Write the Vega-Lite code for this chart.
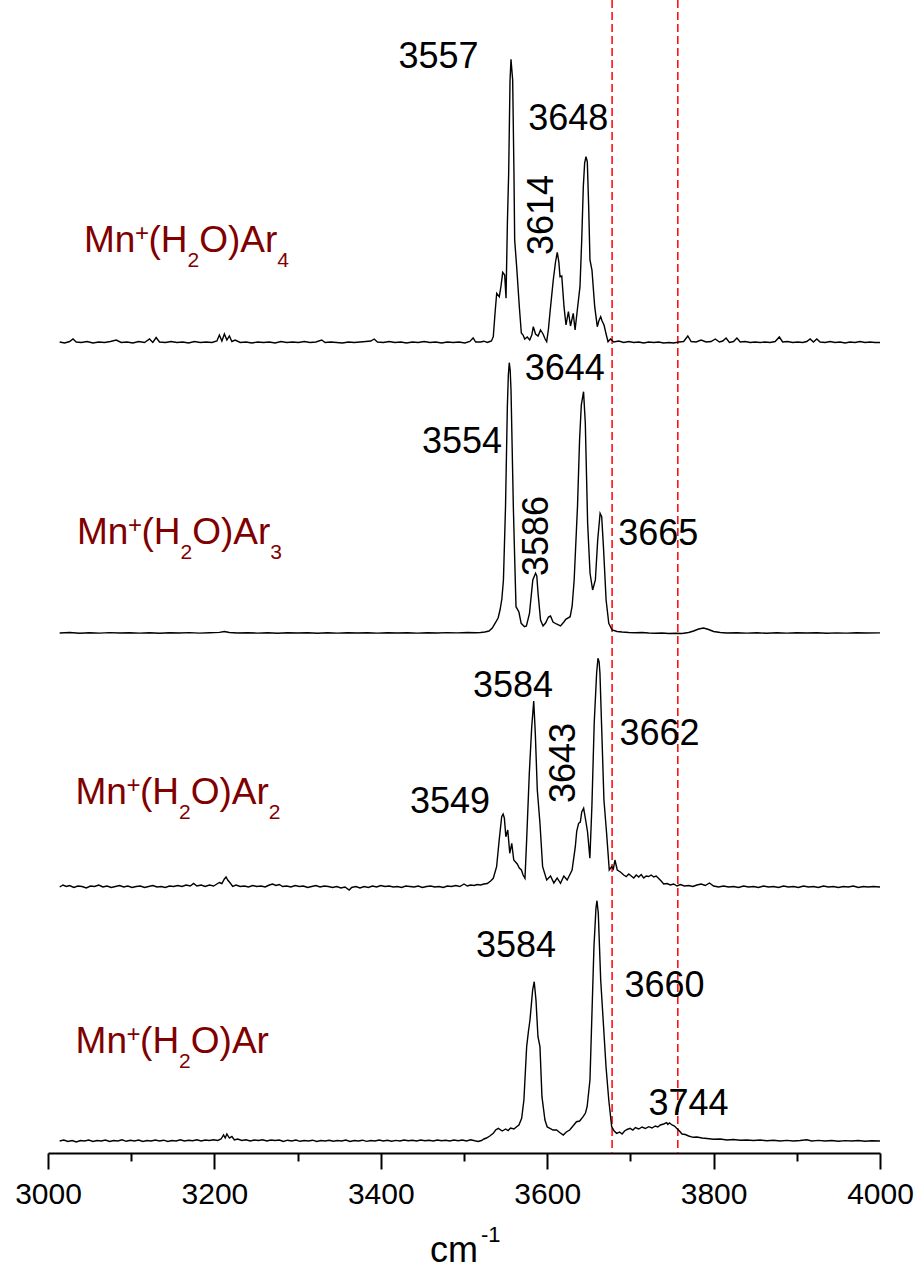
{
  "$schema": "https://vega.github.io/schema/vega-lite/v6.json",
  "width": 832,
  "height": 1153,
  "autosize": {"type": "none"},
  "padding": {"left": 48, "top": 0, "right": 41, "bottom": 123},
  "background": "white",
  "config": {"view": {"stroke": null}, "font": "Liberation Sans"},
  "datasets": {
    "markers": [{"wn": 3678}, {"wn": 3757}],
    "ar4": [
      {"wn":3014,"v":7.99},{"wn":3020,"v":7.98},{"wn":3026,"v":7.995},{"wn":3030,"v":8.02},{"wn":3034,"v":7.99},{"wn":3040,"v":7.985},{"wn":3047,"v":7.995},{"wn":3054,"v":7.98},{"wn":3061,"v":7.99},{"wn":3068,"v":7.985},{"wn":3075,"v":7.995},{"wn":3082,"v":8.01},{"wn":3088,"v":7.985},{"wn":3095,"v":7.99},{"wn":3102,"v":7.98},{"wn":3109,"v":7.995},{"wn":3116,"v":7.985},{"wn":3122,"v":8.02},{"wn":3126,"v":7.985},{"wn":3130,"v":8.035},{"wn":3134,"v":7.99},{"wn":3141,"v":7.985},{"wn":3148,"v":7.995},{"wn":3155,"v":7.985},{"wn":3162,"v":7.99},{"wn":3169,"v":7.98},{"wn":3176,"v":7.995},{"wn":3183,"v":7.985},{"wn":3190,"v":7.99},{"wn":3197,"v":7.985},{"wn":3203,"v":8.0},{"wn":3206,"v":8.06},{"wn":3209,"v":8.0},{"wn":3212,"v":8.07},{"wn":3215,"v":8.01},{"wn":3218,"v":8.05},{"wn":3221,"v":7.995},{"wn":3225,"v":8.01},{"wn":3231,"v":7.985},{"wn":3238,"v":7.99},{"wn":3245,"v":7.98},{"wn":3252,"v":7.99},{"wn":3259,"v":7.985},{"wn":3266,"v":7.99},{"wn":3273,"v":7.98},{"wn":3280,"v":7.995},{"wn":3287,"v":7.985},{"wn":3294,"v":7.99},{"wn":3301,"v":7.985},{"wn":3308,"v":7.995},{"wn":3315,"v":7.985},{"wn":3322,"v":7.99},{"wn":3329,"v":8.01},{"wn":3333,"v":7.985},{"wn":3340,"v":7.99},{"wn":3347,"v":7.985},{"wn":3354,"v":7.98},{"wn":3361,"v":7.99},{"wn":3368,"v":7.985},{"wn":3375,"v":7.99},{"wn":3382,"v":7.995},{"wn":3388,"v":8.0},{"wn":3392,"v":8.02},{"wn":3396,"v":7.99},{"wn":3403,"v":7.985},{"wn":3410,"v":7.995},{"wn":3417,"v":7.985},{"wn":3424,"v":7.99},{"wn":3431,"v":7.98},{"wn":3438,"v":7.99},{"wn":3445,"v":7.985},{"wn":3452,"v":7.995},{"wn":3459,"v":7.985},{"wn":3466,"v":7.99},{"wn":3473,"v":7.98},{"wn":3480,"v":7.99},{"wn":3487,"v":7.985},{"wn":3494,"v":7.99},{"wn":3501,"v":7.98},{"wn":3507,"v":7.995},{"wn":3511,"v":8.03},{"wn":3514,"v":7.99},
      {"wn":3520,"v":7.99},{"wn":3524,"v":7.998},{"wn":3528,"v":7.985},{"wn":3531,"v":7.995},{"wn":3533,"v":8.0},{"wn":3535.2,"v":8.043},{"wn":3537.5,"v":8.3},{"wn":3539.3,"v":8.477},{"wn":3542.4,"v":8.443},{"wn":3544.5,"v":8.55},{"wn":3546.5,"v":8.687},{"wn":3548.9,"v":8.66},{"wn":3550.5,"v":8.427},{"wn":3552.2,"v":9.2},{"wn":3553.7,"v":9.68},{"wn":3555.3,"v":10.6},{"wn":3556.5,"v":10.817},{"wn":3557.6,"v":10.7},{"wn":3558.5,"v":10.61},{"wn":3560,"v":9.71},{"wn":3560.9,"v":9.01},{"wn":3563.3,"v":8.743},{"wn":3566.5,"v":8.343},{"wn":3568.9,"v":8.08},{"wn":3571,"v":8.06},{"wn":3573,"v":8.02},{"wn":3576,"v":8.04},{"wn":3579,"v":8.01},{"wn":3581.5,"v":8.06},{"wn":3583.3,"v":8.143},{"wn":3586,"v":8.07},{"wn":3589,"v":8.05},{"wn":3592,"v":8.11},{"wn":3595,"v":8.07},{"wn":3597.5,"v":8.02},{"wn":3599.4,"v":7.993},{"wn":3601.5,"v":8.12},{"wn":3603.3,"v":8.28},{"wn":3607.3,"v":8.61},{"wn":3610,"v":8.79},{"wn":3612.1,"v":8.887},{"wn":3614,"v":8.79},{"wn":3615.4,"v":8.643},{"wn":3617.5,"v":8.65},{"wn":3620.2,"v":8.343},{"wn":3622.6,"v":8.16},{"wn":3625.5,"v":8.293},{"wn":3628,"v":8.15},{"wn":3631.3,"v":8.277},{"wn":3633.5,"v":8.11},{"wn":3636.2,"v":8.31},{"wn":3639.4,"v":8.543},{"wn":3641.5,"v":9.01},{"wn":3643.4,"v":9.543},{"wn":3645,"v":9.78},{"wn":3646.6,"v":9.843},{"wn":3648.2,"v":9.793},{"wn":3649.8,"v":9.36},{"wn":3651.4,"v":8.81},{"wn":3653.8,"v":8.71},{"wn":3657.1,"v":8.343},{"wn":3660.2,"v":8.143},{"wn":3662,"v":8.2},{"wn":3664.3,"v":8.243},{"wn":3666,"v":8.2},{"wn":3668.3,"v":8.16},{"wn":3670.5,"v":8.08},{"wn":3673.1,"v":7.993},{"wn":3676,"v":8.02},{"wn":3680,"v":7.99},
      {"wn":3686,"v":8.0},{"wn":3692,"v":7.985},{"wn":3698,"v":7.995},{"wn":3704,"v":7.985},{"wn":3710,"v":7.99},{"wn":3716,"v":7.98},{"wn":3722,"v":7.99},{"wn":3728,"v":7.985},{"wn":3734,"v":7.99},{"wn":3740,"v":7.98},{"wn":3746,"v":7.985},{"wn":3752,"v":7.98},{"wn":3758,"v":7.99},{"wn":3764,"v":7.995},{"wn":3769,"v":8.05},{"wn":3773,"v":7.995},{"wn":3779,"v":7.99},{"wn":3785,"v":8.01},{"wn":3791,"v":7.99},{"wn":3797,"v":7.995},{"wn":3802,"v":8.02},{"wn":3807,"v":7.99},{"wn":3811,"v":8.0},{"wn":3815,"v":8.03},{"wn":3819,"v":7.985},{"wn":3824,"v":7.995},{"wn":3828,"v":8.03},{"wn":3832,"v":7.99},{"wn":3838,"v":7.995},{"wn":3844,"v":7.985},{"wn":3850,"v":7.99},{"wn":3856,"v":7.985},{"wn":3862,"v":7.99},{"wn":3868,"v":7.985},{"wn":3874,"v":7.995},{"wn":3879,"v":8.04},{"wn":3883,"v":7.99},{"wn":3889,"v":7.995},{"wn":3895,"v":7.985},{"wn":3901,"v":7.99},{"wn":3907,"v":7.985},{"wn":3912,"v":7.995},{"wn":3916,"v":8.02},{"wn":3920,"v":7.99},{"wn":3924,"v":8.02},{"wn":3928,"v":7.99},{"wn":3934,"v":7.985},{"wn":3940,"v":7.995},{"wn":3946,"v":7.985},{"wn":3952,"v":7.99},{"wn":3958,"v":7.98},{"wn":3964,"v":7.99},{"wn":3970,"v":7.985},{"wn":3976,"v":7.995},{"wn":3982,"v":7.985},{"wn":3988,"v":7.99},{"wn":3994,"v":7.985},{"wn":4000,"v":7.985}
    ],
    "ar3": [
      {"wn":3014,"v":5.08},{"wn":3026,"v":5.085},{"wn":3038,"v":5.078},{"wn":3050,"v":5.083},{"wn":3062,"v":5.079},{"wn":3074,"v":5.084},{"wn":3086,"v":5.08},{"wn":3098,"v":5.083},{"wn":3110,"v":5.079},{"wn":3122,"v":5.082},{"wn":3134,"v":5.078},{"wn":3146,"v":5.083},{"wn":3158,"v":5.08},{"wn":3170,"v":5.084},{"wn":3182,"v":5.079},{"wn":3194,"v":5.082},{"wn":3206,"v":5.086},{"wn":3212,"v":5.095},{"wn":3218,"v":5.085},{"wn":3228,"v":5.08},{"wn":3240,"v":5.083},{"wn":3252,"v":5.079},{"wn":3264,"v":5.082},{"wn":3276,"v":5.078},{"wn":3288,"v":5.083},{"wn":3300,"v":5.08},{"wn":3312,"v":5.082},{"wn":3324,"v":5.078},{"wn":3336,"v":5.083},{"wn":3348,"v":5.079},{"wn":3360,"v":5.082},{"wn":3372,"v":5.08},{"wn":3384,"v":5.083},{"wn":3396,"v":5.079},{"wn":3408,"v":5.082},{"wn":3420,"v":5.08},{"wn":3432,"v":5.083},{"wn":3444,"v":5.079},{"wn":3456,"v":5.082},{"wn":3468,"v":5.08},{"wn":3480,"v":5.084},{"wn":3492,"v":5.081},{"wn":3504,"v":5.085},{"wn":3514,"v":5.083},
      {"wn":3520,"v":5.085},{"wn":3525,"v":5.09},{"wn":3530,"v":5.1},{"wn":3534,"v":5.13},{"wn":3537.3,"v":5.177},{"wn":3541,"v":5.23},{"wn":3543.3,"v":5.31},{"wn":3545.5,"v":5.42},{"wn":3547.4,"v":5.61},{"wn":3549.9,"v":6.343},{"wn":3552.1,"v":7.343},{"wn":3553.3,"v":7.66},{"wn":3554.4,"v":7.783},{"wn":3555.5,"v":7.71},{"wn":3556.5,"v":7.51},{"wn":3559.3,"v":6.343},{"wn":3561,"v":5.8},{"wn":3562.5,"v":5.343},{"wn":3566,"v":5.29},{"wn":3568.7,"v":5.177},{"wn":3572.7,"v":5.143},{"wn":3575,"v":5.15},{"wn":3578.7,"v":5.277},{"wn":3582.7,"v":5.61},{"wn":3586,"v":5.677},{"wn":3587.5,"v":5.65},{"wn":3589,"v":5.477},{"wn":3592,"v":5.21},{"wn":3595,"v":5.15},{"wn":3598,"v":5.18},{"wn":3601.5,"v":5.24},{"wn":3604,"v":5.25},{"wn":3607,"v":5.19},{"wn":3611,"v":5.17},{"wn":3616,"v":5.15},{"wn":3620,"v":5.19},{"wn":3622.3,"v":5.217},{"wn":3627.6,"v":5.243},{"wn":3630,"v":5.35},{"wn":3632.4,"v":5.61},{"wn":3636.4,"v":6.343},{"wn":3638.9,"v":7.01},{"wn":3641,"v":7.36},{"wn":3643.7,"v":7.493},{"wn":3645.8,"v":7.177},{"wn":3648.6,"v":6.177},{"wn":3651.5,"v":5.677},{"wn":3654.6,"v":5.51},{"wn":3657.9,"v":5.61},{"wn":3660.7,"v":6.01},{"wn":3663.6,"v":6.277},{"wn":3665.5,"v":6.243},{"wn":3667.6,"v":5.943},{"wn":3670.8,"v":5.41},{"wn":3674,"v":5.177},{"wn":3678,"v":5.11},
      {"wn":3684,"v":5.095},{"wn":3690,"v":5.09},{"wn":3698,"v":5.085},{"wn":3706,"v":5.082},{"wn":3714,"v":5.085},{"wn":3722,"v":5.08},{"wn":3730,"v":5.078},{"wn":3738,"v":5.08},{"wn":3746,"v":5.075},{"wn":3754,"v":5.078},{"wn":3762,"v":5.075},{"wn":3770,"v":5.085},{"wn":3776,"v":5.1},{"wn":3782,"v":5.12},{"wn":3788,"v":5.13},{"wn":3794,"v":5.115},{"wn":3800,"v":5.095},{"wn":3808,"v":5.085},{"wn":3816,"v":5.08},{"wn":3828,"v":5.083},{"wn":3840,"v":5.079},{"wn":3852,"v":5.082},{"wn":3864,"v":5.078},{"wn":3876,"v":5.082},{"wn":3888,"v":5.079},{"wn":3900,"v":5.083},{"wn":3912,"v":5.08},{"wn":3924,"v":5.082},{"wn":3936,"v":5.078},{"wn":3948,"v":5.081},{"wn":3960,"v":5.079},{"wn":3972,"v":5.082},{"wn":3984,"v":5.08},{"wn":4000,"v":5.081}
    ],
    "ar2": [
      {"wn":3014,"v":2.54},{"wn":3018,"v":2.56},{"wn":3022,"v":2.545},{"wn":3026,"v":2.555},{"wn":3031,"v":2.535},{"wn":3036,"v":2.55},{"wn":3041,"v":2.545},{"wn":3046,"v":2.53},{"wn":3051,"v":2.55},{"wn":3056,"v":2.545},{"wn":3061,"v":2.56},{"wn":3066,"v":2.54},{"wn":3071,"v":2.55},{"wn":3076,"v":2.535},{"wn":3081,"v":2.545},{"wn":3086,"v":2.555},{"wn":3091,"v":2.54},{"wn":3096,"v":2.55},{"wn":3101,"v":2.535},{"wn":3106,"v":2.545},{"wn":3111,"v":2.55},{"wn":3116,"v":2.535},{"wn":3121,"v":2.545},{"wn":3126,"v":2.555},{"wn":3131,"v":2.54},{"wn":3136,"v":2.545},{"wn":3141,"v":2.535},{"wn":3146,"v":2.55},{"wn":3151,"v":2.545},{"wn":3156,"v":2.555},{"wn":3161,"v":2.545},{"wn":3166,"v":2.56},{"wn":3171,"v":2.55},{"wn":3175,"v":2.575},{"wn":3179,"v":2.55},{"wn":3184,"v":2.56},{"wn":3189,"v":2.545},{"wn":3194,"v":2.56},{"wn":3199,"v":2.55},{"wn":3203,"v":2.57},{"wn":3206,"v":2.585},{"wn":3209,"v":2.575},{"wn":3212,"v":2.62},{"wn":3214,"v":2.64},{"wn":3216,"v":2.61},{"wn":3219,"v":2.58},{"wn":3222,"v":2.545},{"wn":3226,"v":2.56},{"wn":3231,"v":2.545},{"wn":3236,"v":2.55},{"wn":3241,"v":2.54},{"wn":3246,"v":2.555},{"wn":3251,"v":2.545},{"wn":3256,"v":2.55},{"wn":3261,"v":2.54},{"wn":3266,"v":2.56},{"wn":3270,"v":2.57},{"wn":3274,"v":2.555},{"wn":3278,"v":2.565},{"wn":3282,"v":2.545},{"wn":3287,"v":2.55},{"wn":3292,"v":2.54},{"wn":3297,"v":2.555},{"wn":3302,"v":2.545},{"wn":3307,"v":2.55},{"wn":3312,"v":2.535},{"wn":3317,"v":2.545},{"wn":3322,"v":2.555},{"wn":3327,"v":2.54},{"wn":3332,"v":2.55},{"wn":3337,"v":2.545},{"wn":3342,"v":2.535},{"wn":3347,"v":2.545},{"wn":3352,"v":2.53},{"wn":3357,"v":2.54},{"wn":3362,"v":2.51},{"wn":3365,"v":2.535},{"wn":3370,"v":2.545},{"wn":3375,"v":2.53},{"wn":3380,"v":2.545},{"wn":3385,"v":2.535},{"wn":3390,"v":2.55},{"wn":3395,"v":2.54},{"wn":3400,"v":2.555},{"wn":3405,"v":2.545},{"wn":3410,"v":2.55},{"wn":3415,"v":2.54},{"wn":3420,"v":2.545},{"wn":3425,"v":2.535},{"wn":3430,"v":2.55},{"wn":3435,"v":2.545},{"wn":3440,"v":2.54},{"wn":3445,"v":2.55},{"wn":3450,"v":2.535},{"wn":3455,"v":2.545},{"wn":3460,"v":2.55},{"wn":3465,"v":2.54},{"wn":3470,"v":2.545},{"wn":3475,"v":2.535},{"wn":3480,"v":2.55},{"wn":3485,"v":2.545},{"wn":3490,"v":2.555},{"wn":3495,"v":2.545},{"wn":3500,"v":2.57},{"wn":3504,"v":2.55},{"wn":3508,"v":2.56},{"wn":3512,"v":2.555},{"wn":3516,"v":2.565},{"wn":3520,"v":2.56},{"wn":3524,"v":2.57},{"wn":3528,"v":2.575},{"wn":3532,"v":2.6},
      {"wn":3535.2,"v":2.627},{"wn":3539.2,"v":2.743},{"wn":3542.3,"v":3.01},{"wn":3545.3,"v":3.243},{"wn":3547,"v":3.27},{"wn":3548.5,"v":3.23},{"wn":3550.3,"v":3.043},{"wn":3552.6,"v":3.11},{"wn":3555,"v":2.877},{"wn":3557.4,"v":2.977},{"wn":3559.8,"v":2.81},{"wn":3564,"v":2.77},{"wn":3566.5,"v":2.73},{"wn":3569,"v":2.71},{"wn":3571,"v":2.66},{"wn":3573.3,"v":2.627},{"wn":3575.3,"v":3.01},{"wn":3578.5,"v":3.677},{"wn":3581.4,"v":4.143},{"wn":3582.8,"v":4.29},{"wn":3583.8,"v":4.4},{"wn":3585.7,"v":4.077},{"wn":3588.1,"v":3.51},{"wn":3591.3,"v":3.177},{"wn":3594.5,"v":2.743},{"wn":3599.4,"v":2.61},{"wn":3604,"v":2.65},{"wn":3608,"v":2.58},{"wn":3612,"v":2.63},{"wn":3616,"v":2.577},{"wn":3620,"v":2.65},{"wn":3624,"v":2.61},{"wn":3627,"v":2.66},{"wn":3629.9,"v":2.71},{"wn":3633.8,"v":2.943},{"wn":3635.5,"v":3.1},{"wn":3637.8,"v":3.177},{"wn":3639.8,"v":3.19},{"wn":3641.5,"v":3.29},{"wn":3643.8,"v":3.327},{"wn":3646.2,"v":3.21},{"wn":3648.5,"v":3.09},{"wn":3651.3,"v":2.827},{"wn":3653.7,"v":3.343},{"wn":3656.5,"v":4.177},{"wn":3659.4,"v":4.677},{"wn":3661,"v":4.827},{"wn":3662.4,"v":4.79},{"wn":3663.4,"v":4.677},{"wn":3665.8,"v":4.043},{"wn":3668.2,"v":3.41},{"wn":3671.4,"v":3.077},{"wn":3674.6,"v":2.71},{"wn":3677.4,"v":2.743},{"wn":3679.5,"v":2.72},{"wn":3681.4,"v":2.81},{"wn":3684.2,"v":2.71},
      {"wn":3688,"v":2.69},{"wn":3692,"v":2.66},{"wn":3695,"v":2.643},{"wn":3698,"v":2.67},{"wn":3701,"v":2.65},{"wn":3704,"v":2.63},{"wn":3707,"v":2.66},{"wn":3710,"v":2.64},{"wn":3713,"v":2.665},{"wn":3716,"v":2.63},{"wn":3719,"v":2.65},{"wn":3722,"v":2.645},{"wn":3725,"v":2.66},{"wn":3728,"v":2.64},{"wn":3731,"v":2.65},{"wn":3734,"v":2.625},{"wn":3737,"v":2.6},{"wn":3740,"v":2.57},{"wn":3744,"v":2.575},{"wn":3748,"v":2.56},{"wn":3752,"v":2.57},{"wn":3756,"v":2.55},{"wn":3760,"v":2.565},{"wn":3765,"v":2.55},{"wn":3770,"v":2.555},{"wn":3775,"v":2.545},{"wn":3780,"v":2.56},{"wn":3785,"v":2.57},{"wn":3790,"v":2.555},{"wn":3795,"v":2.58},{"wn":3800,"v":2.55},{"wn":3806,"v":2.54},{"wn":3812,"v":2.55},{"wn":3818,"v":2.54},{"wn":3824,"v":2.545},{"wn":3830,"v":2.535},{"wn":3836,"v":2.55},{"wn":3842,"v":2.54},{"wn":3848,"v":2.545},{"wn":3854,"v":2.535},{"wn":3860,"v":2.55},{"wn":3866,"v":2.54},{"wn":3872,"v":2.545},{"wn":3878,"v":2.535},{"wn":3884,"v":2.55},{"wn":3890,"v":2.54},{"wn":3896,"v":2.545},{"wn":3902,"v":2.535},{"wn":3908,"v":2.55},{"wn":3914,"v":2.54},{"wn":3920,"v":2.545},{"wn":3926,"v":2.535},{"wn":3932,"v":2.55},{"wn":3938,"v":2.54},{"wn":3944,"v":2.545},{"wn":3950,"v":2.535},{"wn":3956,"v":2.545},{"wn":3962,"v":2.54},{"wn":3968,"v":2.55},{"wn":3974,"v":2.535},{"wn":3980,"v":2.545},{"wn":3986,"v":2.54},{"wn":3992,"v":2.545},{"wn":4000,"v":2.54}
    ],
    "ar1": [
      {"wn":3014,"v":0.0},{"wn":3019,"v":0.01},{"wn":3024,"v":-0.005},{"wn":3029,"v":0.005},{"wn":3034,"v":-0.01},{"wn":3039,"v":0.005},{"wn":3044,"v":0.0},{"wn":3049,"v":0.01},{"wn":3054,"v":-0.005},{"wn":3059,"v":0.005},{"wn":3064,"v":0.0},{"wn":3069,"v":0.01},{"wn":3074,"v":-0.005},{"wn":3079,"v":0.005},{"wn":3084,"v":0.0},{"wn":3089,"v":0.012},{"wn":3094,"v":-0.003},{"wn":3099,"v":0.008},{"wn":3104,"v":0.0},{"wn":3109,"v":0.01},{"wn":3114,"v":-0.005},{"wn":3119,"v":0.005},{"wn":3124,"v":0.0},{"wn":3129,"v":0.01},{"wn":3134,"v":0.0},{"wn":3139,"v":0.008},{"wn":3144,"v":-0.005},{"wn":3149,"v":0.005},{"wn":3154,"v":0.0},{"wn":3159,"v":0.012},{"wn":3164,"v":0.0},{"wn":3169,"v":0.008},{"wn":3174,"v":0.003},{"wn":3179,"v":0.012},{"wn":3184,"v":0.0},{"wn":3189,"v":0.01},{"wn":3194,"v":0.005},{"wn":3199,"v":0.012},{"wn":3204,"v":0.005},{"wn":3208,"v":0.02},{"wn":3211,"v":0.06},{"wn":3213,"v":0.03},{"wn":3215,"v":0.07},{"wn":3218,"v":0.03},{"wn":3221,"v":0.045},{"wn":3224,"v":0.01},{"wn":3228,"v":0.02},{"wn":3233,"v":0.005},{"wn":3238,"v":0.012},{"wn":3243,"v":0.0},{"wn":3248,"v":0.01},{"wn":3253,"v":0.005},{"wn":3258,"v":0.012},{"wn":3263,"v":0.0},{"wn":3268,"v":0.01},{"wn":3273,"v":0.005},{"wn":3278,"v":0.01},{"wn":3283,"v":-0.005},{"wn":3288,"v":0.008},{"wn":3293,"v":0.0},{"wn":3298,"v":0.01},{"wn":3303,"v":-0.003},{"wn":3308,"v":0.005},{"wn":3313,"v":0.0},{"wn":3318,"v":0.008},{"wn":3323,"v":-0.005},{"wn":3328,"v":0.005},{"wn":3333,"v":0.0},{"wn":3338,"v":0.008},{"wn":3343,"v":-0.003},{"wn":3348,"v":0.005},{"wn":3353,"v":0.0},{"wn":3358,"v":0.01},{"wn":3363,"v":-0.005},{"wn":3368,"v":0.005},{"wn":3373,"v":0.0},{"wn":3378,"v":0.008},{"wn":3383,"v":-0.004},{"wn":3388,"v":0.005},{"wn":3393,"v":0.0},{"wn":3398,"v":0.01},{"wn":3403,"v":0.0},{"wn":3408,"v":0.008},{"wn":3413,"v":-0.003},{"wn":3418,"v":0.006},{"wn":3423,"v":0.0},{"wn":3428,"v":0.01},{"wn":3433,"v":0.002},{"wn":3438,"v":0.008},{"wn":3443,"v":0.0},{"wn":3448,"v":0.01},{"wn":3453,"v":0.003},{"wn":3458,"v":0.008},{"wn":3463,"v":0.0},{"wn":3468,"v":0.01},{"wn":3473,"v":0.002},{"wn":3478,"v":0.008},{"wn":3483,"v":0.0},{"wn":3488,"v":0.01},{"wn":3493,"v":0.003},{"wn":3498,"v":0.01},{"wn":3503,"v":0.0},{"wn":3508,"v":0.012},{"wn":3513,"v":0.002},{"wn":3517,"v":-0.005},
      {"wn":3521,"v":0.005},{"wn":3524,"v":0.02},{"wn":3527,"v":0.03},{"wn":3531,"v":0.05},{"wn":3535.2,"v":0.077},{"wn":3538,"v":0.11},{"wn":3541.2,"v":0.127},{"wn":3546,"v":0.1},{"wn":3550,"v":0.12},{"wn":3553,"v":0.105},{"wn":3556,"v":0.13},{"wn":3560,"v":0.12},{"wn":3563.3,"v":0.143},{"wn":3566,"v":0.16},{"wn":3569.3,"v":0.227},{"wn":3572,"v":0.41},{"wn":3575.3,"v":0.943},{"wn":3577.5,"v":1.1},{"wn":3579.3,"v":1.21},{"wn":3582.5,"v":1.51},{"wn":3584.4,"v":1.593},{"wn":3586.5,"v":1.41},{"wn":3588.9,"v":1.043},{"wn":3591.3,"v":0.943},{"wn":3593.7,"v":0.443},{"wn":3597.3,"v":0.21},{"wn":3600,"v":0.14},{"wn":3603.3,"v":0.127},{"wn":3607,"v":0.11},{"wn":3611.3,"v":0.11},{"wn":3615,"v":0.085},{"wn":3619.3,"v":0.06},{"wn":3623,"v":0.09},{"wn":3627,"v":0.11},{"wn":3631,"v":0.15},{"wn":3635.2,"v":0.193},{"wn":3639,"v":0.2},{"wn":3643.2,"v":0.243},{"wn":3646,"v":0.28},{"wn":3648,"v":0.343},{"wn":3651.4,"v":0.61},{"wn":3653.8,"v":1.277},{"wn":3656.2,"v":1.943},{"wn":3658.6,"v":2.327},{"wn":3659.8,"v":2.403},{"wn":3661.4,"v":2.277},{"wn":3664.3,"v":1.61},{"wn":3667.5,"v":1.177},{"wn":3670.7,"v":0.743},{"wn":3674,"v":0.41},{"wn":3677.5,"v":0.143},{"wn":3680.5,"v":0.1},{"wn":3683.5,"v":0.077},
      {"wn":3687,"v":0.09},{"wn":3690,"v":0.07},{"wn":3693,"v":0.1},{"wn":3696,"v":0.115},{"wn":3699.6,"v":0.127},{"wn":3703,"v":0.11},{"wn":3706,"v":0.135},{"wn":3710,"v":0.12},{"wn":3714,"v":0.14},{"wn":3718,"v":0.125},{"wn":3722,"v":0.143},{"wn":3726,"v":0.13},{"wn":3730,"v":0.15},{"wn":3733,"v":0.14},{"wn":3736,"v":0.16},{"wn":3740,"v":0.17},{"wn":3743.6,"v":0.183},{"wn":3745,"v":0.165},{"wn":3747,"v":0.18},{"wn":3750,"v":0.16},{"wn":3753,"v":0.15},{"wn":3755.6,"v":0.127},{"wn":3759,"v":0.1},{"wn":3762,"v":0.07},{"wn":3766,"v":0.065},{"wn":3770,"v":0.05},{"wn":3775.5,"v":0.037},{"wn":3780,"v":0.04},{"wn":3786,"v":0.03},{"wn":3792,"v":0.025},{"wn":3800,"v":0.017},{"wn":3808,"v":0.02},{"wn":3816,"v":0.01},{"wn":3824,"v":0.015},{"wn":3832,"v":0.008},{"wn":3840,"v":0.01},{"wn":3848,"v":0.005},{"wn":3856,"v":0.01},{"wn":3864,"v":0.003},{"wn":3872,"v":0.008},{"wn":3880,"v":0.0},{"wn":3888,"v":0.006},{"wn":3896,"v":0.0},{"wn":3904,"v":0.005},{"wn":3912,"v":0.012},{"wn":3918,"v":0.0},{"wn":3926,"v":0.006},{"wn":3934,"v":0.0},{"wn":3942,"v":0.005},{"wn":3950,"v":-0.003},{"wn":3958,"v":0.004},{"wn":3966,"v":0.0},{"wn":3974,"v":0.005},{"wn":3982,"v":-0.003},{"wn":3990,"v":0.003},{"wn":4000,"v":0.0}
    ],
    "peaks": [
      {"label":"3557","wn":3469.3,"v":10.727},
      {"label":"3648","wn":3625.3,"v":10.11},
      {"label":"3644","wn":3621.0,"v":7.61},
      {"label":"3554","wn":3497.6,"v":6.877},
      {"label":"3665","wn":3733.6,"v":5.96},
      {"label":"3584","wn":3558.9,"v":4.443},
      {"label":"3662","wn":3735.0,"v":3.96},
      {"label":"3549","wn":3483.2,"v":3.28},
      {"label":"3584","wn":3562.5,"v":1.843},
      {"label":"3660","wn":3741.0,"v":1.443},
      {"label":"3744","wn":3769.8,"v":0.26}
    ],
    "peaksVertical": [
      {"label":"3614","wn":3607.3,"v":9.26},
      {"label":"3586","wn":3601.0,"v":6.05},
      {"label":"3643","wn":3633.4,"v":3.78}
    ],
    "species": [
      {"ion":"Ar4","wn":3043.3,"v":8.893,"n":"4"},
      {"ion":"Ar3","wn":3034.9,"v":5.97,"n":"3"},
      {"ion":"Ar2","wn":3033.1,"v":3.37,"n":"2"},
      {"ion":"Ar","wn":3033.2,"v":0.877,"n":""}
    ],
    "unit": [{"wn":3459.1,"v":-1.21}]
  },
  "layer": [
    {
      "data": {"name": "markers"},
      "mark": {"type": "rule", "color": "#FF0000", "strokeWidth": 1.5, "strokeDash": [8, 4]},
      "encoding": {
        "x": {"field": "wn", "type": "quantitative",
          "scale": {"domain": [3000, 4000], "nice": false, "zero": false},
          "axis": {"orient": "bottom", "values": [3100, 3300, 3500, 3700, 3900], "labels": false, "domain": false, "grid": false, "title": null,
            "ticks": true, "tickSize": 8, "tickWidth": 2, "tickColor": "black"}}
      }
    },
    {
      "data": {"name": "ar4"},
      "mark": {"type": "line", "color": "black", "strokeWidth": 1.4},
      "encoding": {
        "x": {"field": "wn", "type": "quantitative",
          "scale": {"domain": [3000, 4000], "nice": false, "zero": false},
          "axis": {"orient": "bottom", "values": [3000, 3200, 3400, 3600, 3800, 4000], "format": "d", "grid": false, "title": null,
            "domain": true, "domainColor": "black", "domainWidth": 2,
            "ticks": true, "tickSize": 16, "tickWidth": 2, "tickColor": "black",
            "labelFont": "Liberation Sans", "labelFontSize": 30, "labelColor": "black", "labelPadding": 10,
            "labelFlush": false, "labelOverlap": false}},
        "y": {"field": "v", "type": "quantitative", "scale": {"domain": [-0.12, 11.41], "nice": false, "zero": false}, "axis": null}
      }
    },
    {
      "data": {"name": "ar3"},
      "mark": {"type": "line", "color": "black", "strokeWidth": 1.4},
      "encoding": {
        "x": {"field": "wn", "type": "quantitative", "scale": {"domain": [3000, 4000], "nice": false, "zero": false}, "axis": null},
        "y": {"field": "v", "type": "quantitative", "scale": {"domain": [-0.12, 11.41], "nice": false, "zero": false}, "axis": null}
      }
    },
    {
      "data": {"name": "ar2"},
      "mark": {"type": "line", "color": "black", "strokeWidth": 1.4},
      "encoding": {
        "x": {"field": "wn", "type": "quantitative", "scale": {"domain": [3000, 4000], "nice": false, "zero": false}, "axis": null},
        "y": {"field": "v", "type": "quantitative", "scale": {"domain": [-0.12, 11.41], "nice": false, "zero": false}, "axis": null}
      }
    },
    {
      "data": {"name": "ar1"},
      "mark": {"type": "line", "color": "black", "strokeWidth": 1.4},
      "encoding": {
        "x": {"field": "wn", "type": "quantitative", "scale": {"domain": [3000, 4000], "nice": false, "zero": false}, "axis": null},
        "y": {"field": "v", "type": "quantitative", "scale": {"domain": [-0.12, 11.41], "nice": false, "zero": false}, "axis": null}
      }
    },
    {
      "data": {"name": "peaks"},
      "mark": {"type": "text", "font": "Liberation Sans", "fontSize": 36, "color": "black", "align": "center", "baseline": "alphabetic"},
      "encoding": {
        "x": {"field": "wn", "type": "quantitative", "scale": {"domain": [3000, 4000], "nice": false, "zero": false}, "axis": null},
        "y": {"field": "v", "type": "quantitative", "scale": {"domain": [-0.12, 11.41], "nice": false, "zero": false}, "axis": null},
        "text": {"field": "label"}
      }
    },
    {
      "data": {"name": "peaksVertical"},
      "mark": {"type": "text", "font": "Liberation Sans", "fontSize": 36, "color": "black", "align": "center", "baseline": "alphabetic", "angle": 270},
      "encoding": {
        "x": {"field": "wn", "type": "quantitative", "scale": {"domain": [3000, 4000], "nice": false, "zero": false}, "axis": null},
        "y": {"field": "v", "type": "quantitative", "scale": {"domain": [-0.12, 11.41], "nice": false, "zero": false}, "axis": null},
        "text": {"field": "label"}
      }
    },
    {
      "data": {"name": "species"},
      "encoding": {
        "x": {"field": "wn", "type": "quantitative", "scale": {"domain": [3000, 4000], "nice": false, "zero": false}, "axis": null},
        "y": {"field": "v", "type": "quantitative", "scale": {"domain": [-0.12, 11.41], "nice": false, "zero": false}, "axis": null}
      },
      "layer": [
        {"mark": {"type": "text", "text": "Mn", "font": "Liberation Sans", "fontSize": 37, "color": "#800000", "align": "left", "baseline": "alphabetic"}},
        {"mark": {"type": "text", "text": "+", "font": "Liberation Sans", "fontSize": 24, "color": "#800000", "align": "left", "baseline": "alphabetic", "dx": 51, "dy": -11}},
        {"mark": {"type": "text", "text": "(H", "font": "Liberation Sans", "fontSize": 37, "color": "#800000", "align": "left", "baseline": "alphabetic", "dx": 64.5}},
        {"mark": {"type": "text", "text": "2", "font": "Liberation Sans", "fontSize": 21, "color": "#800000", "align": "left", "baseline": "alphabetic", "dx": 103.5, "dy": 15}},
        {"mark": {"type": "text", "text": "O)Ar", "font": "Liberation Sans", "fontSize": 37, "color": "#800000", "align": "left", "baseline": "alphabetic", "dx": 115.2}},
        {"mark": {"type": "text", "font": "Liberation Sans", "fontSize": 21, "color": "#800000", "align": "left", "baseline": "alphabetic", "dx": 193.3, "dy": 15},
          "encoding": {"text": {"field": "n"}}}
      ]
    },
    {
      "data": {"name": "unit"},
      "encoding": {
        "x": {"field": "wn", "type": "quantitative", "scale": {"domain": [3000, 4000], "nice": false, "zero": false}, "axis": null},
        "y": {"field": "v", "type": "quantitative", "scale": {"domain": [-0.12, 11.41], "nice": false, "zero": false}, "axis": null}
      },
      "layer": [
        {"mark": {"type": "text", "text": "cm", "font": "Liberation Sans", "fontSize": 36, "color": "black", "align": "left", "baseline": "alphabetic"}},
        {"mark": {"type": "text", "text": "-1", "font": "Liberation Sans", "fontSize": 22, "color": "black", "align": "left", "baseline": "alphabetic", "dx": 51, "dy": -20}}
      ]
    }
  ],
  "resolve": {"axis": {"x": "independent"}}
}
